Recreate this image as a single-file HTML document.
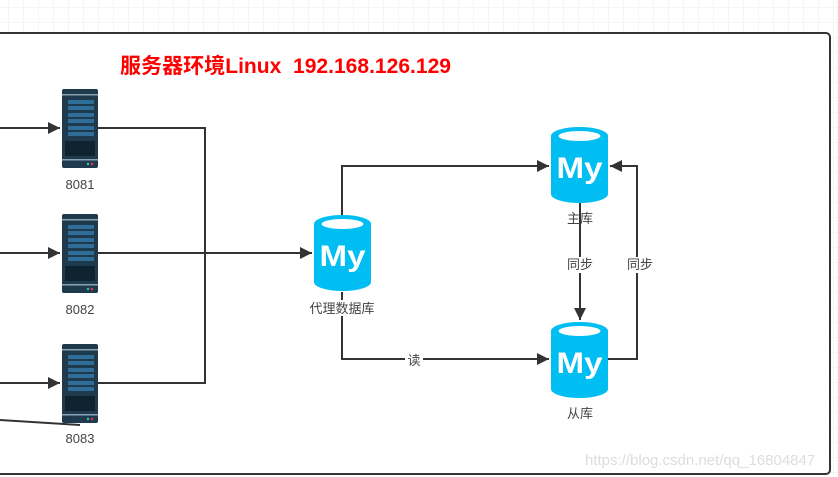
<!DOCTYPE html><html><head><meta charset="utf-8"><style>
html,body{margin:0;padding:0;width:838px;height:477px;overflow:hidden;background:#fff}
text{font-family:"Liberation Sans","Noto Sans CJK SC",sans-serif}
</style></head><body>
<svg width="838" height="477" viewBox="0 0 838 477" xmlns="http://www.w3.org/2000/svg">
<defs>
<pattern id="g" width="15" height="15" patternUnits="userSpaceOnUse" x="8" y="7"><path d="M0 0H15M0 0V15" stroke="#ebebeb" stroke-width="1" fill="none"/></pattern>
<marker id="a" viewBox="0 0 10 10" refX="10" refY="5" markerWidth="6" markerHeight="6" orient="auto"><path d="M0 0L10 5L0 10z" fill="#333"/></marker>
<g id="srv">
<rect x="0" y="0" width="36" height="79" rx="2" fill="#1f3a4d"/>
<rect x="0" y="5" width="36" height="1.5" fill="#8aa3b3"/>
<rect x="6" y="11" width="26" height="4" fill="#2e6e99"/><rect x="6" y="17" width="26" height="4" fill="#2e6e99"/>
<rect x="6" y="24" width="26" height="4" fill="#2e6e99"/><rect x="6" y="30" width="26" height="4" fill="#2e6e99"/>
<rect x="6" y="37" width="26" height="4" fill="#2e6e99"/><rect x="6" y="43" width="26" height="4" fill="#2e6e99"/>
<rect x="3" y="52" width="30" height="15" fill="#0f2230"/>
<rect x="0" y="70" width="36" height="1.5" fill="#8aa3b3"/>
<circle cx="26" cy="75" r="1.2" fill="#3c9"/><circle cx="30" cy="75" r="1.2" fill="#e35"/>
</g>
<g id="cyl">
<path d="M0 9 A28.5 9 0 0 1 57 9 V67 A28.5 9 0 0 1 0 67Z" fill="#00bef2"/>
<ellipse cx="28.5" cy="9" rx="21" ry="5" fill="#fff"/>
<text x="28.5" y="51" text-anchor="middle" font-size="30" font-weight="bold" fill="#fff" textLength="46" lengthAdjust="spacingAndGlyphs">My</text>
</g>
</defs>
<rect width="838" height="477" fill="url(#g)"/>
<rect x="-10" y="33" width="840" height="441" rx="4" fill="#fff" stroke="#333" stroke-width="2"/>
<text x="120" y="73" font-size="21" font-weight="bold" fill="#f00" xml:space="preserve" style="white-space:pre" textLength="331" lengthAdjust="spacingAndGlyphs">服务器环境Linux  192.168.126.129</text>
<g stroke="#333" stroke-width="2" fill="none">
<path d="M0 128H60" marker-end="url(#a)"/>
<path d="M0 253H60" marker-end="url(#a)"/>
<path d="M0 383H60" marker-end="url(#a)"/>
<path d="M0 420L80 425"/>
<path d="M98 128H205V383H98"/>
<path d="M98 253H312" marker-end="url(#a)"/>
<path d="M342 215V166H549" marker-end="url(#a)"/>
<path d="M342 292V359H549" marker-end="url(#a)"/>
<path d="M580 203V320" marker-end="url(#a)"/>
<path d="M608 359H637V166H610" marker-end="url(#a)"/>
</g>
<use href="#srv" x="62" y="89"/><use href="#srv" x="62" y="214"/><use href="#srv" x="62" y="344"/>
<g font-size="13" fill="#444" text-anchor="middle">
<text x="80" y="189">8081</text><text x="80" y="314">8082</text><text x="80" y="443">8083</text>
</g>
<use href="#cyl" x="314" y="215"/><use href="#cyl" x="551" y="127"/><use href="#cyl" x="551" y="322"/>
<g font-size="13" fill="#444" text-anchor="middle">
<rect x="306" y="300" width="72" height="16" fill="#fff"/>
<text x="342" y="313">代理数据库</text>
<text x="580" y="223">主库</text>
<text x="580" y="418">从库</text>
<rect x="565" y="257" width="30" height="16" fill="#fff"/><text x="580" y="269">同步</text>
<rect x="624" y="257" width="30" height="16" fill="#fff"/><text x="640" y="269">同步</text>
<rect x="405" y="352" width="18" height="16" fill="#fff"/><text x="414" y="365">读</text>
</g>
<text x="585" y="465" font-size="15" fill="#ddd">https://blog.csdn.net/qq_16804847</text>
</svg>
</body></html>
